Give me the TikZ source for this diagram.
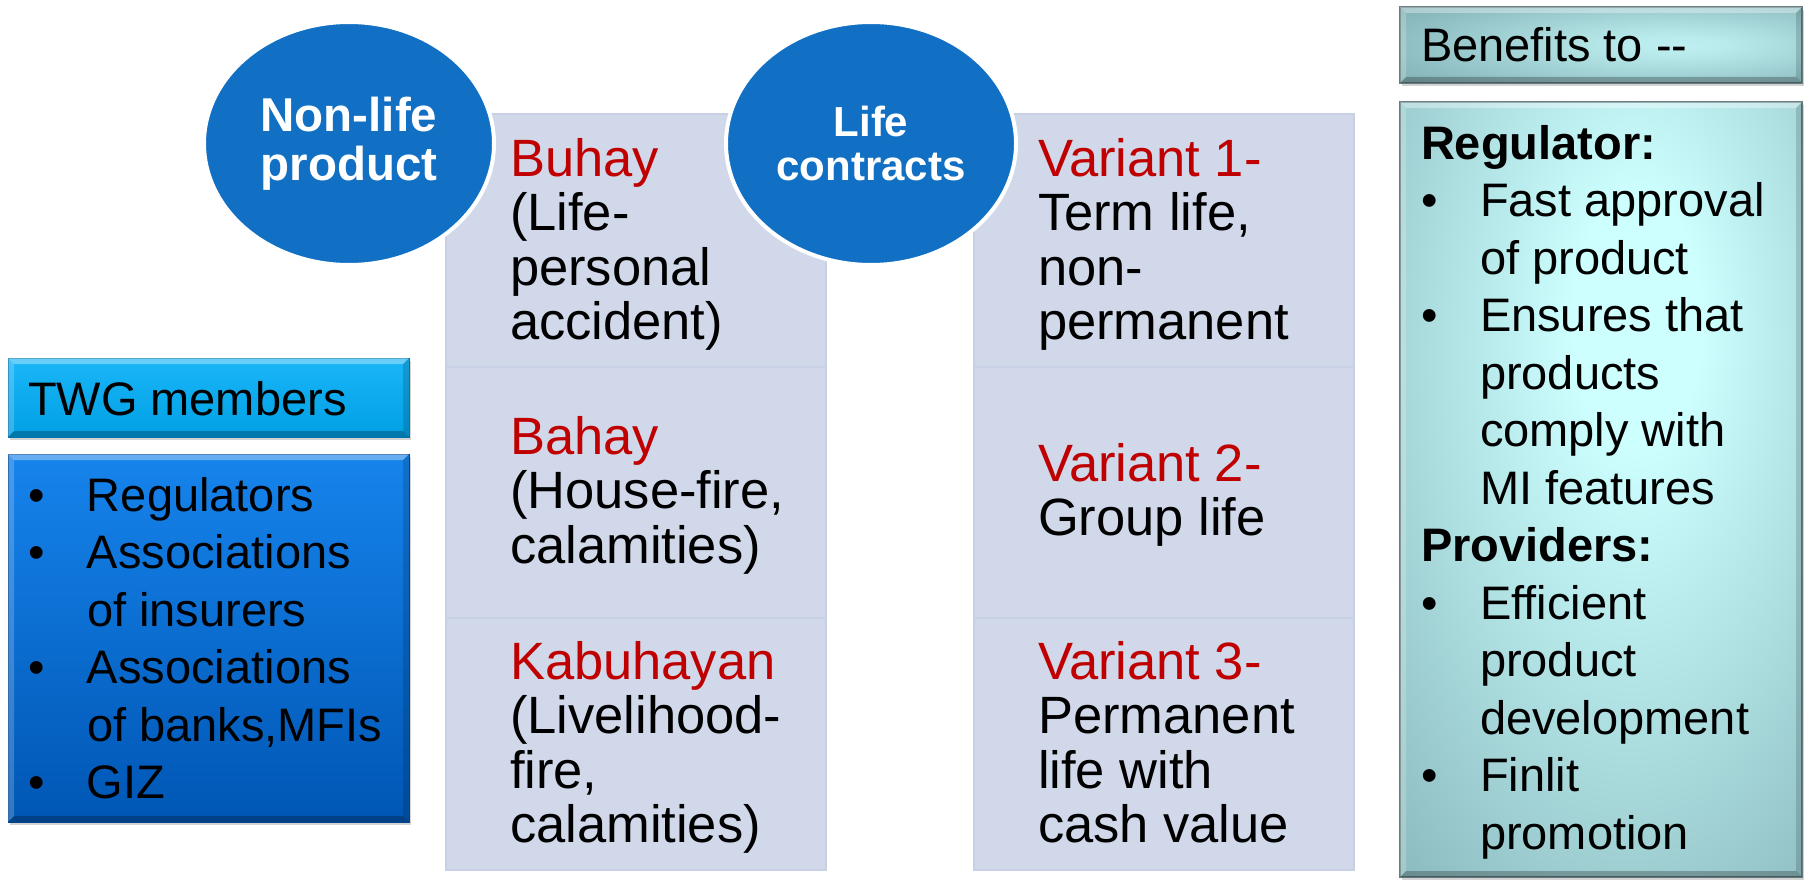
\documentclass[tikz,border=0pt]{standalone}
\usepackage{fontspec}
\setmainfont{Liberation Sans}
\usetikzlibrary{shapes.geometric,shadows,calc}

\definecolor{ovalblue}{RGB}{18,112,196}
\definecolor{colfill}{RGB}{208,216,234}
\definecolor{coledge}{RGB}{199,208,228}
\definecolor{namered}{RGB}{192,0,0}
\definecolor{twgheadtop}{RGB}{26,182,248}
\definecolor{twgheadbot}{RGB}{0,160,228}
\definecolor{twgheadline}{RGB}{0,120,180}
\definecolor{twgtop}{RGB}{22,132,236}
\definecolor{twgbot}{RGB}{0,86,180}
\definecolor{twgline}{RGB}{0,70,150}
\definecolor{benglow}{RGB}{205,255,255}
\definecolor{benedge}{RGB}{108,154,160}
\definecolor{benline}{RGB}{100,124,128}

\pgfdeclareradialshading{benbodyshade}{\pgfpoint{5bp}{12bp}}{%
  color(0bp)=(benglow); color(8bp)=(benglow); color(58bp)=(benedge); color(85bp)=(benedge)}
\pgfdeclareradialshading{benheadshade}{\pgfpoint{10bp}{0bp}}{%
  color(0bp)=(benglow!85!benedge); color(6bp)=(benglow!80!benedge); color(52bp)=(benedge); color(85bp)=(benedge)}

\newcommand\twgfont{\fontsize{47}{57.5}\selectfont}
\newcommand\colfont{\fontsize{52.5}{54.5}\selectfont}
\newcommand\firstline{\rule{0pt}{45pt}}
\newcommand\bul{\makebox[59pt][l]{\textbullet}}
\newcommand\ind{\hspace*{59pt}}
\newcommand\redname[1]{\textcolor{namered}{#1}}

% bevelled edge of a box: light top/left, dark bottom/right
\newcommand\bevelframe[2]{%
  \fill[white,opacity=.35] (#1.north west) -- (#1.north east) -- ($(#1.north east)+(-#2,-#2)$) -- ($(#1.north west)+(#2,-#2)$) -- cycle;
  \fill[white,opacity=.2] (#1.north west) -- ($(#1.north west)+(#2,-#2)$) -- ($(#1.south west)+(#2,#2)$) -- (#1.south west) -- cycle;
  \fill[black,opacity=.25] (#1.south west) -- (#1.south east) -- ($(#1.south east)+(-#2,#2)$) -- ($(#1.south west)+(#2,#2)$) -- cycle;
  \fill[black,opacity=.15] (#1.north east) -- (#1.south east) -- ($(#1.south east)+(-#2,#2)$) -- ($(#1.north east)+(-#2,-#2)$) -- cycle;
}

\tikzset{
  every node/.style={inner sep=0pt, outer sep=0pt},
  oval/.style={ellipse, fill=ovalblue, draw=white, line width=4pt,
    minimum width=290pt, minimum height=243pt, text=white, align=center},
  cell/.style={rectangle, fill=colfill, draw=coledge, line width=2pt, minimum width=380pt},
  celltext/.style={anchor=north west, align=left, font=\colfont},
  boxshadow/.style={drop shadow={shadow xshift=2pt, shadow yshift=-3pt, opacity=.35}},
  twghead/.style={rectangle, boxshadow, top color=twgheadtop, bottom color=twgheadbot,
    draw=twgheadline, line width=1pt, minimum width=401pt, minimum height=79pt},
  twgbody/.style={rectangle, boxshadow, top color=twgtop, bottom color=twgbot,
    draw=twgline, line width=1pt, minimum width=401pt, minimum height=368pt},
  benhead/.style={rectangle, boxshadow, shade, shading=benheadshade,
    draw=benline, line width=1.5pt, minimum width=402pt, minimum height=76pt},
  benbody/.style={rectangle, boxshadow, shade, shading=benbodyshade,
    draw=benline, line width=1.5pt, minimum width=402pt, minimum height=775pt},
  boxtext/.style={anchor=north west, align=left, font=\twgfont},
}

\begin{document}
\begin{tikzpicture}[x=1pt, y=-1pt]
\useasboundingbox (0,0) rectangle (1807,880);

% product columns, three cells each
\node[cell, minimum height=253pt] (nl1) at (636,240.5) {};
\node[cell, minimum height=251pt] (nl2) at (636,492.5) {};
\node[cell, minimum height=252pt] (nl3) at (636,744) {};
\node[cell, minimum height=253pt] (lf1) at (1164,240.5) {};
\node[cell, minimum height=251pt] (lf2) at (1164,492.5) {};
\node[cell, minimum height=252pt] (lf3) at (1164,744) {};

% category ovals
\node[oval, font=\fontsize{47.5}{49}\bfseries\selectfont] (nonlife) at (349,143.5) {Non-life\\product};
\node[oval, font=\fontsize{42}{44}\bfseries\selectfont] (life) at (871,143.5) {Life\\contracts};

% cell texts
\node[celltext] (buhay) at (510,131) {\firstline\redname{Buhay}\\(Life-\\personal\\accident)};
\node[celltext] (bahay) at (510,409) {\firstline\redname{Bahay}\\(House-fire,\\calamities)};
\node[celltext] (kabuhayan) at (510,634) {\firstline\redname{Kabuhayan}\\(Livelihood-\\fire,\\calamities)};
\node[celltext] (var1) at (1038,131) {\firstline\redname{Variant 1-}\\Term life,\\non-\\permanent};
\node[celltext] (var2) at (1038,436) {\firstline\redname{Variant 2-}\\Group life};
\node[celltext] (var3) at (1038,634) {\firstline\redname{Variant 3-}\\Permanent\\life with\\cash value};

% TWG members panel
\node[twghead] (twgh) at (208.5,397.5) {};
\node[twgbody] (twgb) at (208.5,638) {};
\bevelframe{twgh}{6pt}
\bevelframe{twgb}{6pt}
\node[boxtext] (twghtext) at (28,370) {\firstline TWG members};
\node[boxtext] (twgbtext) at (28,466) {\firstline\bul Regulators\\
  \bul Associations\\ \ind of insurers\\
  \bul Associations\\ \ind of banks,MFIs\\
  \bul GIZ};

% benefits panel
\node[benhead] (benh) at (1601,45) {};
\node[benbody] (benb) at (1601,489.5) {};
\bevelframe{benh}{6pt}
\bevelframe{benb}{6pt}
\node[boxtext] (benhtext) at (1421,17) {\firstline Benefits to -{}-};
\node[boxtext] (benbtext) at (1421,114) {\firstline\textbf{Regulator:}\\
  \bul Fast approval\\ \ind of product\\
  \bul Ensures that\\ \ind products\\ \ind comply with\\ \ind MI features\\
  \textbf{Providers:}\\
  \bul Efficient\\ \ind product\\ \ind development\\
  \bul Finlit\\ \ind promotion};
\end{tikzpicture}
\end{document}
